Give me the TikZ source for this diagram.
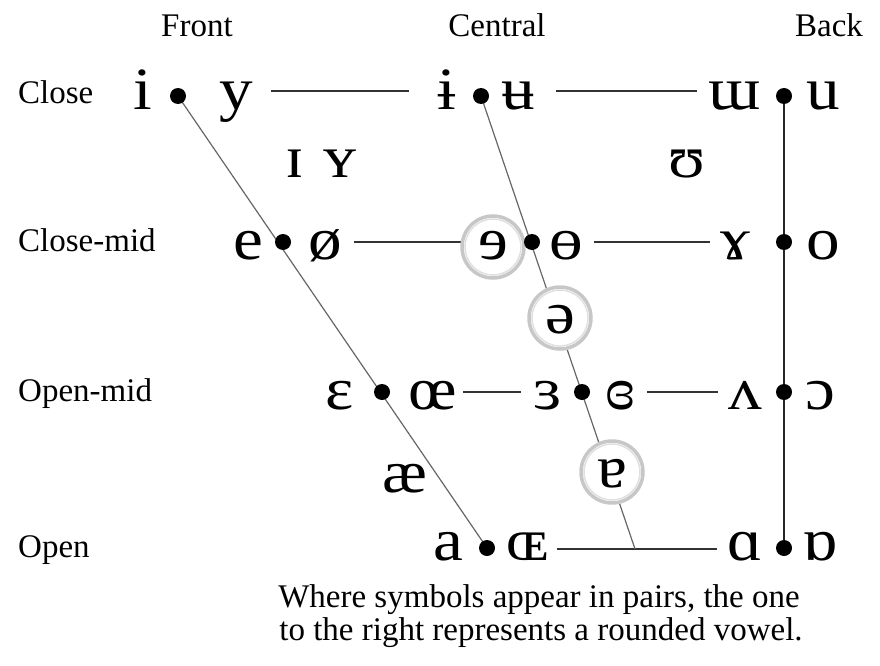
\documentclass[tikz,border=0pt]{standalone}
\usepackage{fontspec}
\setmainfont{Liberation Serif}
\newfontfamily\ipafont[FakeStretch=1.12]{Liberation Serif}
\begin{document}
\begin{tikzpicture}[x=1pt,y=-1pt,
  vow/.style={font=\ipafont\fontsize{60}{62}\selectfont, anchor=base, inner sep=0pt},
  lab/.style={font=\fontsize{33}{36}\selectfont, inner sep=0pt},
  dotn/.style={circle, fill=black, inner sep=0pt, minimum size=16pt},
  hline/.style={line width=2pt, draw=black!80},
  dline/.style={line width=1.2pt, draw=black!60},
  bline/.style={line width=2.2pt, draw=black!85},
  ring/.style={circle, draw=black!22, fill=white, line width=3.5pt, minimum size=62pt, inner sep=0pt},
  ringin/.style={circle, draw=black!12, line width=1.5pt, minimum size=56pt, inner sep=0pt}]
\useasboundingbox (0,0) rectangle (880,666);
% headers
\node[lab, anchor=base] (hF) at (197,37) {Front};
\node[lab, anchor=base] (hC) at (497,37) {Central};
\node[lab, anchor=base] (hB) at (829,37) {Back};
\node[lab, anchor=base west] (rC) at (18,103) {Close};
\node[lab, anchor=base west] (rCM) at (18,251) {Close-mid};
\node[lab, anchor=base west] (rOM) at (18,401) {Open-mid};
\node[lab, anchor=base west] (rO) at (18,557) {Open};
% dot coordinates
\coordinate (p1) at (178,96);
\coordinate (p2) at (481,96);
\coordinate (p3) at (784,96);
\coordinate (p4) at (283,242);
\coordinate (p5) at (532,242);
\coordinate (p6) at (784,242);
\coordinate (p7) at (382,392);
\coordinate (p8) at (582,392);
\coordinate (p9) at (784,392);
\coordinate (p10) at (487,548);
\coordinate (p11) at (784,548);
\coordinate (cb) at (635,549);
% horizontal line ends
\coordinate (h1a) at (271,91); \coordinate (h1b) at (409,91);
\coordinate (h2a) at (556,91); \coordinate (h2b) at (697,91);
\coordinate (h3a) at (354,242); \coordinate (h3b) at (462,242);
\coordinate (h4a) at (594,242); \coordinate (h4b) at (710,242);
\coordinate (h5a) at (463,392); \coordinate (h5b) at (521,392);
\coordinate (h6a) at (647,392); \coordinate (h6b) at (718,392);
\coordinate (h7a) at (557,549); \coordinate (h7b) at (717,549);
\draw[hline] (h1a) -- (h1b);
\draw[hline] (h2a) -- (h2b);
\draw[hline] (h3a) -- (h3b);
\draw[hline] (h4a) -- (h4b);
\draw[hline] (h5a) -- (h5b);
\draw[hline] (h6a) -- (h6b);
\draw[hline] (h7a) -- (h7b);
\draw[dline] (p1) -- (p10);
\draw[dline] (p2) -- (cb);
\draw[bline] (p3) -- (p11);
% rings
\node[ring] (r1) at (493,247) {};
\node[ring] (r2) at (560,318) {};
\node[ring] (r3) at (612,472) {};
\node[ringin] (r1i) at (r1) {};
\node[ringin] (r2i) at (r2) {};
\node[ringin] (r3i) at (r3) {};
% dots
\foreach \i in {1,...,11} {\node[dotn] (d\i) at (p\i) {};}
% vowels
\node[vow] (v1) at (143,110) {i};
\node[vow] (v2) at (236,110) {y};
\node[vow] (v3) at (447,110) {ɨ};
\node[vow] (v4) at (518,110) {ʉ};
\node[vow] (v5) at (735,110) {ɯ};
\node[vow] (v6) at (823,110) {u};
\node[vow] (v7) at (295,177) {ɪ};
\node[vow] (v8) at (340,177) {ʏ};
\node[vow] (v9) at (687,177) {ʊ};
\node[vow] (v10) at (248,259) {e};
\node[vow] (v11) at (325,259) {ø};
\node[vow] (v12) at (493,259) {ɘ};
\node[vow] (v13) at (566,259) {ɵ};
\node[vow] (v14) at (735,259) {ɤ};
\node[vow] (v15) at (823,259) {o};
\node[vow] (v16) at (560,333) {ə};
\node[vow] (v17) at (340,409) {ɛ};
\node[vow] (v18) at (433,409) {œ};
\node[vow] (v19) at (548,409) {ɜ};
\node[vow] (v20) at (620,409) {ɞ};
\node[vow] (v21) at (745,409) {ʌ};
\node[vow] (v22) at (820,409) {ɔ};
\node[vow] (v23) at (405,492) {æ};
\node[vow] (v24) at (612,487) {ɐ};
\node[vow] (v25) at (448,560) {a};
\node[vow] (v26) at (528,560) {ɶ};
\node[vow] (v27) at (745,560) {ɑ};
\node[vow] (v28) at (820,560) {ɒ};
% note
\node[lab, anchor=base] (n1) at (539,607) {Where symbols appear in pairs, the one};
\node[lab, anchor=base] (n2) at (541,640) {to the right represents a rounded vowel.};
\end{tikzpicture}
\end{document}
